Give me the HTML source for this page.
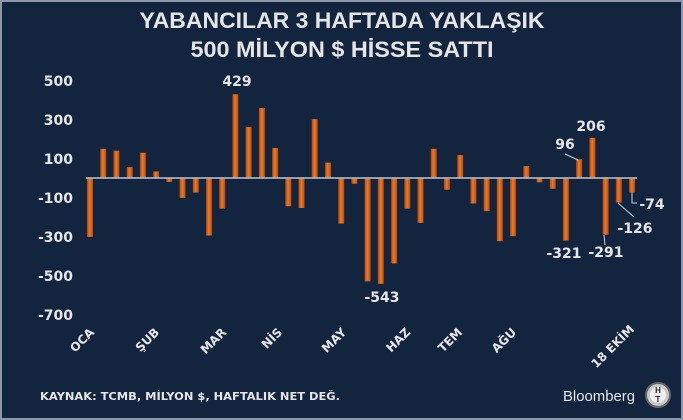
<!DOCTYPE html>
<html><head><meta charset="utf-8">
<style>
html,body{margin:0;padding:0;background:#13243f;}
svg{display:block;font-family:"Liberation Sans",sans-serif;}
.d{font-family:"DejaVu Sans","Liberation Sans",sans-serif;}
</style></head>
<body>
<svg id="s" width="683" height="420" viewBox="0 0 683 420" xmlns="http://www.w3.org/2000/svg">
<defs>
<linearGradient id="g" x1="0" x2="1" y1="0" y2="0">
<stop offset="0" stop-color="#a9440f"/><stop offset="0.45" stop-color="#f07a24"/><stop offset="1" stop-color="#b34c12"/>
</linearGradient>
</defs>
<rect x="0" y="0" width="683" height="420" fill="#13243f"/>
<rect x="1" y="1" width="681" height="418" fill="none" stroke="#8d99a8" stroke-width="2"/>
<g fill="#e6e6e6" font-weight="bold" font-size="22" text-anchor="middle">
<text x="342" y="28" textLength="405" lengthAdjust="spacingAndGlyphs">YABANCILAR 3 HAFTADA YAKLAŞIK</text>
<text x="342" y="57" textLength="303" lengthAdjust="spacingAndGlyphs">500 MİLYON $ HİSSE SATTI</text>
</g>
<g class="d" fill="#e6e6e6" font-weight="bold" font-size="14" text-anchor="end">
<text x="73" y="86">500</text>
<text x="73" y="125">300</text>
<text x="73" y="164">100</text>
<text x="73" y="203">-100</text>
<text x="73" y="242">-300</text>
<text x="73" y="281">-500</text>
<text x="73" y="320">-700</text>
</g>
<g id="bars"></g>
<line x1="86" y1="178" x2="637" y2="178" stroke="#b8c4d4" stroke-width="1.5"/>
<g class="d" fill="#e6e6e6" font-weight="bold" font-size="12" text-anchor="end">
<text transform="translate(95,333) rotate(-45)">OCA</text>
<text transform="translate(160,333) rotate(-45)">ŞUB</text>
<text transform="translate(227,333) rotate(-45)">MAR</text>
<text transform="translate(283,333) rotate(-45)">NİS</text>
<text transform="translate(347,333) rotate(-45)">MAY</text>
<text transform="translate(411,333) rotate(-45)">HAZ</text>
<text transform="translate(463,333) rotate(-45)">TEM</text>
<text transform="translate(517,333) rotate(-45)">AĞU</text>
<text transform="translate(635,330) rotate(-45)">18 EKİM</text>
</g>
<g class="d" fill="#e6e6e6" font-weight="bold" font-size="14" text-anchor="middle">
<text x="237" y="86">429</text>
<text x="382" y="302">-543</text>
<text x="564" y="258">-321</text>
<text x="606" y="257">-291</text>
<text x="565" y="149">96</text>
<text x="591" y="131">206</text>
<text x="635" y="233">-126</text>
<text x="652" y="209">-74</text>
</g>
<g stroke="#c8d0dc" stroke-width="1" fill="none">
<polyline points="565,154 578,160"/>
<polyline points="605,245 604,235"/>
<polyline points="618,203 634,217"/>
<polyline points="632,192 632,203 637,203"/>
</g>
<text class="d" x="40" y="400" fill="#e6e6e6" font-weight="bold" font-size="10.5" textLength="300" lengthAdjust="spacingAndGlyphs">KAYNAK: TCMB, MİLYON $, HAFTALIK NET DEĞ.</text>
<text x="563" y="401" fill="#e6e6e6" font-size="15" textLength="72" lengthAdjust="spacingAndGlyphs">Bloomberg</text>
<circle cx="658" cy="395" r="12" fill="#c8c8c8" stroke="#666" stroke-width="2"/>
<circle cx="658" cy="395" r="8" fill="#f0f0f0"/>
<text x="658" y="393" font-size="8" font-weight="bold" text-anchor="middle" fill="#222">H</text>
<text x="658" y="402" font-size="8" font-weight="bold" text-anchor="middle" fill="#222">T</text>
</svg>
<script>
var v=[-302,150,140,56,130,34,-20,-102,-75,-295,-157,429,262,359,154,-145,-154,302,79,-234,-29,-530,-543,-438,-157,-230,150,-60,118,-131,-170,-324,-298,61,-22,-55,-321,96,206,-291,-126,-74];
var g=document.getElementById('bars'),h='';
for(var i=0;i<v.length;i++){var x=90+i*13.22-3,k=0.195,y0=178,hh=Math.abs(v[i])*k,y=v[i]>0?y0-hh:y0;
h+='<rect x="'+x.toFixed(1)+'" y="'+y.toFixed(1)+'" width="6" height="'+hh.toFixed(1)+'" fill="url(#g)"/>';}
g.innerHTML=h;
</script>
</body></html>
